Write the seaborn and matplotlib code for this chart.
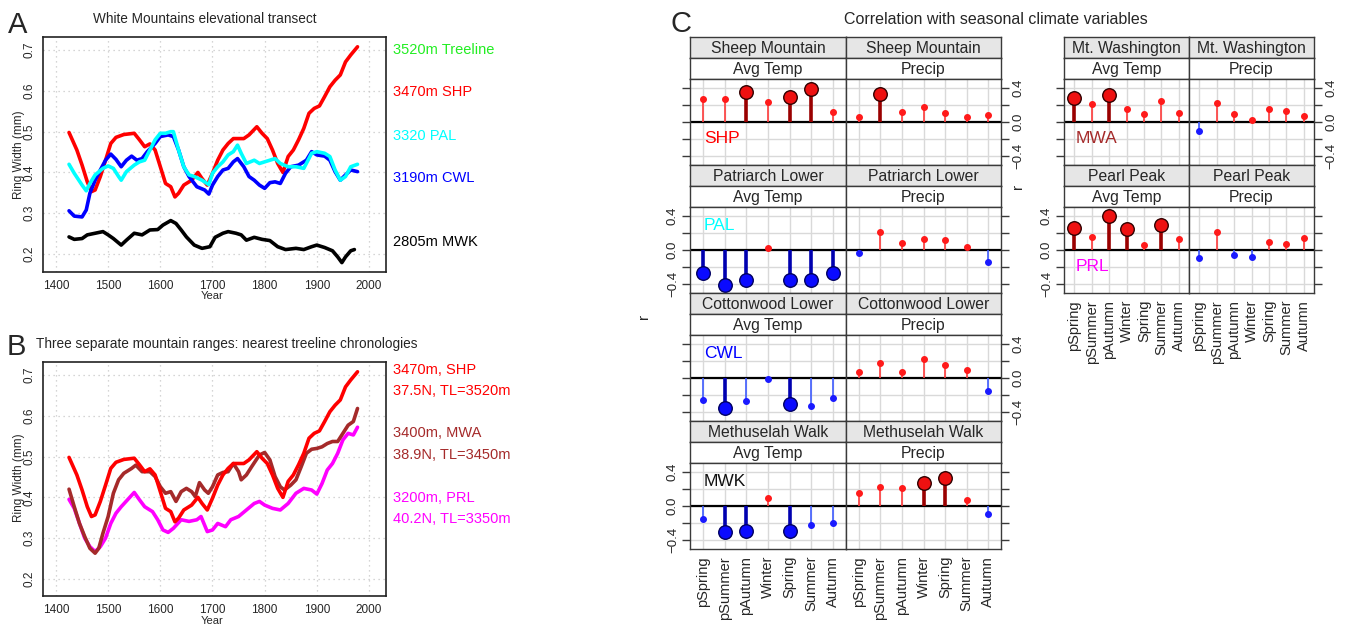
import matplotlib
matplotlib.use("Agg")
import matplotlib.pyplot as plt
import numpy as np
import pandas as pd
import seaborn as sns

W, H = 1355, 628

# --- ring width chronologies (mm) ---
SHP_YEAR = [1425, 1440, 1450, 1460, 1468, 1475, 1485, 1495, 1505, 1515, 1530, 1550, 1560,
            1570, 1580, 1590, 1600, 1610, 1620, 1628, 1635, 1645, 1660, 1672, 1680, 1690,
            1700, 1710, 1720, 1730, 1740, 1760, 1770, 1785, 1795, 1805, 1815, 1825, 1835,
            1845, 1855, 1865, 1875, 1885, 1895, 1905, 1915, 1925, 1935, 1945, 1955, 1965, 1978]
SHP_WIDTH = [0.498, 0.455, 0.418, 0.377, 0.353, 0.357, 0.39, 0.43, 0.471, 0.486, 0.493, 0.496,
             0.48, 0.463, 0.47, 0.455, 0.414, 0.373, 0.365, 0.34, 0.349, 0.369, 0.381, 0.40,
             0.385, 0.369, 0.398, 0.43, 0.455, 0.471, 0.483, 0.483, 0.492, 0.512, 0.496, 0.483,
             0.455, 0.422, 0.40, 0.439, 0.455, 0.48, 0.508, 0.545, 0.557, 0.563, 0.586, 0.61,
             0.626, 0.639, 0.671, 0.688, 0.708]

PAL_YEAR = [1425, 1435, 1450, 1458, 1465, 1475, 1490, 1500, 1510, 1520, 1525, 1535, 1550,
            1560, 1570, 1580, 1590, 1600, 1610, 1620, 1625, 1635, 1645, 1655, 1665, 1680,
            1693, 1700, 1710, 1720, 1730, 1740, 1748, 1755, 1765, 1780, 1790, 1800, 1810,
            1820, 1830, 1845, 1860, 1875, 1890, 1900, 1915, 1925, 1935, 1945, 1955, 1965, 1978]
PAL_WIDTH = [0.42, 0.398, 0.369, 0.355, 0.373, 0.394, 0.41, 0.416, 0.41, 0.39, 0.381, 0.402,
             0.418, 0.426, 0.43, 0.455, 0.48, 0.496, 0.496, 0.50, 0.50, 0.455, 0.414, 0.394,
             0.39, 0.381, 0.37, 0.398, 0.414, 0.426, 0.443, 0.451, 0.467, 0.447, 0.422, 0.43,
             0.422, 0.426, 0.43, 0.434, 0.422, 0.414, 0.414, 0.41, 0.447, 0.451, 0.447, 0.439,
             0.406, 0.381, 0.39, 0.414, 0.42]

CWL_YEAR = [1425, 1435, 1450, 1458, 1465, 1475, 1485, 1495, 1505, 1515, 1525, 1535, 1545,
            1555, 1565, 1575, 1590, 1600, 1615, 1625, 1635, 1645, 1655, 1670, 1685, 1693,
            1700, 1710, 1720, 1730, 1740, 1748, 1760, 1770, 1780, 1790, 1800, 1810, 1820,
            1830, 1840, 1850, 1865, 1880, 1890, 1900, 1915, 1925, 1935, 1945, 1955, 1965, 1978]
CWL_WIDTH = [0.306, 0.293, 0.291, 0.308, 0.349, 0.381, 0.406, 0.43, 0.445, 0.432, 0.414, 0.43,
             0.44, 0.43, 0.434, 0.451, 0.471, 0.488, 0.492, 0.488, 0.455, 0.414, 0.39, 0.365,
             0.357, 0.347, 0.369, 0.39, 0.406, 0.41, 0.426, 0.434, 0.414, 0.39, 0.381, 0.369,
             0.361, 0.375, 0.377, 0.373, 0.398, 0.414, 0.418, 0.43, 0.451, 0.443, 0.44, 0.43,
             0.402, 0.381, 0.394, 0.406, 0.402]

MWK_YEAR = [1425, 1435, 1450, 1460, 1475, 1490, 1500, 1510, 1525, 1535, 1550, 1565, 1580,
            1595, 1605, 1620, 1630, 1640, 1650, 1665, 1680, 1695, 1705, 1720, 1730, 1745,
            1755, 1765, 1780, 1795, 1810, 1825, 1840, 1860, 1875, 1890, 1900, 1915, 1930,
            1940, 1948, 1955, 1965, 1972]
MWK_WIDTH = [0.242, 0.236, 0.238, 0.247, 0.251, 0.255, 0.247, 0.238, 0.222, 0.234, 0.251,
             0.247, 0.259, 0.26, 0.271, 0.282, 0.275, 0.259, 0.242, 0.222, 0.214, 0.218, 0.241,
             0.251, 0.255, 0.251, 0.247, 0.234, 0.241, 0.236, 0.233, 0.218, 0.211, 0.214, 0.211,
             0.218, 0.222, 0.216, 0.208, 0.193, 0.179, 0.193, 0.208, 0.211]

MWA_YEAR = [1425, 1435, 1445, 1455, 1465, 1475, 1482, 1490, 1500, 1510, 1520, 1530, 1545,
            1553, 1565, 1580, 1590, 1600, 1610, 1620, 1630, 1640, 1650, 1660, 1667, 1675,
            1685, 1692, 1700, 1710, 1720, 1730, 1740, 1750, 1755, 1765, 1775, 1790, 1800,
            1810, 1820, 1830, 1838, 1850, 1860, 1870, 1880, 1890, 1900, 1910, 1920, 1930,
            1940, 1950, 1960, 1970, 1978]
MWA_WIDTH = [0.42, 0.377, 0.336, 0.304, 0.275, 0.263, 0.275, 0.312, 0.353, 0.41, 0.443, 0.459,
             0.471, 0.479, 0.463, 0.463, 0.451, 0.426, 0.41, 0.414, 0.39, 0.414, 0.422, 0.414,
             0.402, 0.436, 0.418, 0.41, 0.426, 0.455, 0.461, 0.463, 0.483, 0.463, 0.443, 0.455,
             0.475, 0.504, 0.51, 0.492, 0.451, 0.426, 0.418, 0.43, 0.443, 0.475, 0.508, 0.518,
             0.52, 0.524, 0.532, 0.537, 0.537, 0.557, 0.577, 0.586, 0.618]

PRL_YEAR = [1425, 1435, 1445, 1455, 1465, 1475, 1485, 1495, 1505, 1515, 1525, 1540, 1550,
            1560, 1570, 1585, 1595, 1605, 1615, 1625, 1640, 1655, 1670, 1678, 1690, 1700,
            1710, 1725, 1735, 1750, 1765, 1780, 1790, 1800, 1815, 1830, 1845, 1860, 1875,
            1890, 1900, 1910, 1920, 1930, 1940, 1950, 1960, 1970, 1978]
PRL_WIDTH = [0.395, 0.373, 0.336, 0.30, 0.279, 0.267, 0.279, 0.30, 0.336, 0.361, 0.377, 0.398,
             0.412, 0.394, 0.377, 0.365, 0.345, 0.32, 0.314, 0.324, 0.345, 0.341, 0.345, 0.353,
             0.316, 0.32, 0.336, 0.328, 0.345, 0.353, 0.369, 0.385, 0.39, 0.381, 0.373, 0.369,
             0.385, 0.41, 0.422, 0.418, 0.408, 0.434, 0.467, 0.483, 0.508, 0.541, 0.557, 0.553,
             0.572]

# --- correlations with seasonal climate (r) and significance flags ---
SEASONS = ["pSpring", "pSummer", "pAutumn", "Winter", "Spring", "Summer", "Autumn"]

SHP_TEMP = [0.27, 0.27, 0.36, 0.24, 0.30, 0.39, 0.12]
SHP_TEMP_SIG = [0, 0, 1, 0, 1, 1, 0]
SHP_PREC = [0.06, 0.33, 0.12, 0.18, 0.11, 0.06, 0.08]
SHP_PREC_SIG = [0, 1, 0, 0, 0, 0, 0]

PAL_TEMP = [-0.27, -0.42, -0.35, 0.02, -0.36, -0.35, -0.27]
PAL_TEMP_SIG = [1, 1, 1, 0, 1, 1, 1]
PAL_PREC = [-0.03, 0.21, 0.08, 0.13, 0.12, 0.03, -0.14]
PAL_PREC_SIG = [0, 0, 0, 0, 0, 0, 0]

CWL_TEMP = [-0.255, -0.36, -0.27, -0.015, -0.31, -0.33, -0.24]
CWL_TEMP_SIG = [0, 1, 0, 0, 1, 0, 0]
CWL_PREC = [0.07, 0.18, 0.07, 0.23, 0.15, 0.10, -0.155]
CWL_PREC_SIG = [0, 0, 0, 0, 0, 0, 0]

MWK_TEMP = [-0.16, -0.31, -0.30, 0.09, -0.30, -0.22, -0.20]
MWK_TEMP_SIG = [0, 1, 1, 0, 1, 0, 0]
MWK_PREC = [0.16, 0.23, 0.21, 0.27, 0.33, 0.07, -0.09]
MWK_PREC_SIG = [0, 0, 0, 1, 1, 0, 0]

MWA_TEMP = [0.29, 0.21, 0.32, 0.16, 0.10, 0.25, 0.11]
MWA_TEMP_SIG = [1, 0, 1, 0, 0, 0, 0]
MWA_PREC = [-0.11, 0.23, 0.09, 0.02, 0.15, 0.13, 0.07]
MWA_PREC_SIG = [0, 0, 0, 0, 0, 0, 0]

PRL_TEMP = [0.26, 0.15, 0.40, 0.25, 0.06, 0.30, 0.13]
PRL_TEMP_SIG = [1, 0, 1, 1, 0, 1, 0]
PRL_PREC = [-0.09, 0.21, -0.055, -0.08, 0.10, 0.07, 0.14]
PRL_PREC_SIG = [0, 0, 0, 0, 0, 0, 0]

EDGE = "#3a3a3a"


def rect(l, t, r, b):
    """Pixel box (left, top, right, bottom) -> figure fraction rect."""
    return [l / W, 1 - b / H, (r - l) / W, (b - t) / H]


def ftext(fig, x, y, s, **kw):
    fig.text(x / W, 1 - y / H, s, **kw)


def series_axes(fig, box, ylim):
    ax = fig.add_axes(rect(*box))
    ax.set_xlim(1375.1, 2032.6)
    ax.set_ylim(*ylim)
    ax.set_xticks([1400, 1500, 1600, 1700, 1800, 1900, 2000])
    ax.set_yticks([0.2, 0.3, 0.4, 0.5, 0.6, 0.7])
    ax.set_yticklabels(["0.2", "0.3", "0.4", "0.5", "0.6", "0.7"], rotation=90, va="center")
    ax.grid(True, color="#c8c8c8", linestyle=(0, (1, 3)), linewidth=0.9)
    ax.tick_params(direction="out", length=4, width=0.8, labelsize=8.5, pad=1.5)
    for s in ax.spines.values():
        s.set_color("#222222")
        s.set_linewidth(1.2)
    return ax


def draw_series(ax, years, widths, color):
    df = pd.DataFrame({"year": years, "width": widths})
    sns.lineplot(data=df, x="year", y="width", ax=ax, color=color, linewidth=2.6)
    ax.set_xlabel("")
    ax.set_ylabel("")


def strip(fig, l, t, r, b, text, face):
    ax = fig.add_axes(rect(l, t, r, b))
    ax.set_facecolor(face)
    ax.set_xticks([])
    ax.set_yticks([])
    for s in ax.spines.values():
        s.set_color(EDGE)
        s.set_linewidth(1.0)
    ax.text(0.5, 0.47, text, ha="center", va="center", transform=ax.transAxes, fontsize=11.3)


def corr_panel(fig, box, values, sig, side, label_side, show_x):
    ax = fig.add_axes(rect(*box))
    df = pd.DataFrame({"pos": np.arange(1, 8), "r": values, "sig": sig})
    ax.set_xlim(0.4, 7.6)
    ax.set_ylim(-0.51, 0.51)
    ax.set_xticks(np.arange(1, 8))
    ax.set_yticks([-0.4, 0.0, 0.4])
    ax.set_yticks([-0.2, 0.2], minor=True)
    ax.grid(True, which="both", color="#d9d9d9", linewidth=1.0)
    ax.set_axisbelow(True)
    ax.axhline(0, color="black", linewidth=1.6, zorder=2)

    pos_small = df[(df.r >= 0) & (df.sig == 0)]
    pos_big = df[(df.r >= 0) & (df.sig == 1)]
    neg_small = df[(df.r < 0) & (df.sig == 0)]
    neg_big = df[(df.r < 0) & (df.sig == 1)]

    ax.vlines(pos_small.pos, 0, pos_small.r, color="#ff3b3b", linewidth=1.2, zorder=3)
    ax.vlines(neg_small.pos, 0, neg_small.r, color="#3f5bff", linewidth=1.2, zorder=3)
    ax.vlines(pos_big.pos, 0, pos_big.r, color="#9a0000", linewidth=2.6, zorder=3)
    ax.vlines(neg_big.pos, 0, neg_big.r, color="#0000b0", linewidth=2.6, zorder=3)

    for sub, color, edge, size in [
        (pos_small, "#ff1a1a", "#ff1a1a", 16),
        (neg_small, "#1a1aff", "#1a1aff", 16),
        (pos_big, "#ee1111", "#300000", 95),
        (neg_big, "#0a0aff", "#000060", 95),
    ]:
        if len(sub):
            sns.scatterplot(data=sub, x="pos", y="r", ax=ax, color=color, edgecolor=edge,
                            s=size, linewidth=1.0, zorder=4, legend=False)
    ax.set_xlabel("")
    ax.set_ylabel("")

    for s in ax.spines.values():
        s.set_color(EDGE)
        s.set_linewidth(1.0)

    ax.tick_params(axis="y", which="both", direction="out", length=6, width=1.0, color=EDGE,
                   left=(side == "left"), right=(side == "right"),
                   labelleft=(label_side == "left"), labelright=(label_side == "right"),
                   labelsize=9.5, pad=2)
    ax.set_yticklabels(["\u22120.4", "0.0", "0.4"], rotation=90, va="center")
    ax.tick_params(axis="x", length=0, labelbottom=show_x, labelsize=10.5, pad=5)
    ax.set_xticklabels(SEASONS, rotation=90)
    return ax


sns.set_style("white")
plt.rcParams["font.family"] = ["Liberation Sans", "DejaVu Sans"]

fig = plt.figure(figsize=(W / 100, H / 100), dpi=100)

# ---------------- Panel A ----------------
axA = series_axes(fig, (43, 37, 386, 272), (0.156, 0.732))
draw_series(axA, MWK_YEAR, MWK_WIDTH, "black")
draw_series(axA, SHP_YEAR, SHP_WIDTH, "#ff0000")
draw_series(axA, CWL_YEAR, CWL_WIDTH, "#0000ff")
draw_series(axA, PAL_YEAR, PAL_WIDTH, "#00ffff")
ftext(fig, 8, 25, "A", fontsize=21, va="center", ha="left")
ftext(fig, 205, 19, "White Mountains elevational transect", fontsize=9.8, ha="center",
      va="center")
ftext(fig, 212, 296, "Year", fontsize=8, ha="center", va="center")
ftext(fig, 19, 155, "Ring Width (mm)", fontsize=8.5, ha="center", va="center", rotation=90)
for y, s, c in [(50, "3520m Treeline", "#22ee22"), (92, "3470m SHP", "#ff0000"),
                (136, "3320 PAL", "#00ffff"), (178, "3190m CWL", "#0000ff"),
                (242, "2805m MWK", "black")]:
    ftext(fig, 393, y, s, color=c, fontsize=10.5, ha="left", va="center")

# ---------------- Panel B ----------------
axB = series_axes(fig, (43, 362, 386, 596), (0.158, 0.732))
draw_series(axB, PRL_YEAR, PRL_WIDTH, "#ff00ff")
draw_series(axB, MWA_YEAR, MWA_WIDTH, "#a52a2a")
draw_series(axB, SHP_YEAR, SHP_WIDTH, "#ff0000")
ftext(fig, 7, 347, "B", fontsize=21, va="center", ha="left")
ftext(fig, 36, 344, "Three separate mountain ranges: nearest treeline chronologies", fontsize=9.8,
      ha="left", va="center")
ftext(fig, 212, 621, "Year", fontsize=8, ha="center", va="center")
ftext(fig, 19, 478, "Ring Width (mm)", fontsize=8.5, ha="center", va="center", rotation=90)
for y, s, c in [(370, "3470m, SHP", "#ff0000"), (391, "37.5N, TL=3520m", "#ff0000"),
                (433, "3400m, MWA", "#a52a2a"), (455, "38.9N, TL=3450m", "#a52a2a"),
                (498, "3200m, PRL", "#ff00ff"), (519, "40.2N, TL=3350m", "#ff00ff")]:
    ftext(fig, 393, y, s, color=c, fontsize=10.5, ha="left", va="center")

# ---------------- Panel C ----------------
ftext(fig, 671, 24, "C", fontsize=21, va="center", ha="left")
ftext(fig, 996, 20, "Correlation with seasonal climate variables", fontsize=11.5, ha="center",
      va="center")

ROW_TOPS = [37, 165, 293, 421]

# site, temp r, temp sig, precip r, precip sig, code, code colour, code height in panel
left_grid = [
    ("Sheep Mountain", SHP_TEMP, SHP_TEMP_SIG, SHP_PREC, SHP_PREC_SIG, "SHP", "#ff0000", 0.31),
    ("Patriarch Lower", PAL_TEMP, PAL_TEMP_SIG, PAL_PREC, PAL_PREC_SIG, "PAL", "#00ffff", 0.79),
    ("Cottonwood Lower", CWL_TEMP, CWL_TEMP_SIG, CWL_PREC, CWL_PREC_SIG, "CWL", "#0000ff", 0.79),
    ("Methuselah Walk", MWK_TEMP, MWK_TEMP_SIG, MWK_PREC, MWK_PREC_SIG, "MWK", "#111111", 0.79),
]
right_grid = [
    ("Mt. Washington", MWA_TEMP, MWA_TEMP_SIG, MWA_PREC, MWA_PREC_SIG, "MWA", "#a52a2a", 0.31),
    ("Pearl Peak", PRL_TEMP, PRL_TEMP_SIG, PRL_PREC, PRL_PREC_SIG, "PRL", "#ff00ff", 0.31),
]


def draw_grid(rows, x0, xm, x1):
    n = len(rows)
    for i, (site, temp, tsig, prec, psig, code, ccol, cy) in enumerate(rows):
        t = ROW_TOPS[i]
        last = i == n - 1
        # alternate label side, as lattice does
        lab_left = "left" if i % 2 == 1 else "none"
        lab_right = "right" if i % 2 == 0 else "none"
        for (l, r, var, vals, sg, side, lab) in [
            (x0, xm, "Avg Temp", temp, tsig, "left", lab_left),
            (xm, x1, "Precip", prec, psig, "right", lab_right),
        ]:
            strip(fig, l, t, r, t + 21, site, "#e6e6e6")
            strip(fig, l, t + 21, r, t + 42, var, "white")
            ax = corr_panel(fig, (l, t + 42, r, t + 128), vals, sg, side, lab, last)
            if var == "Avg Temp":
                ax.text(0.09, cy, code, transform=ax.transAxes, color=ccol, fontsize=12.5,
                        ha="left", va="center")


draw_grid(left_grid, 690, 846, 1001)
draw_grid(right_grid, 1064, 1189, 1314)
ftext(fig, 644, 316, "r", fontsize=11, rotation=90, ha="center", va="center")
ftext(fig, 1018, 186, "r", fontsize=11, rotation=90, ha="center", va="center")

fig.savefig("out.png", dpi=100)
